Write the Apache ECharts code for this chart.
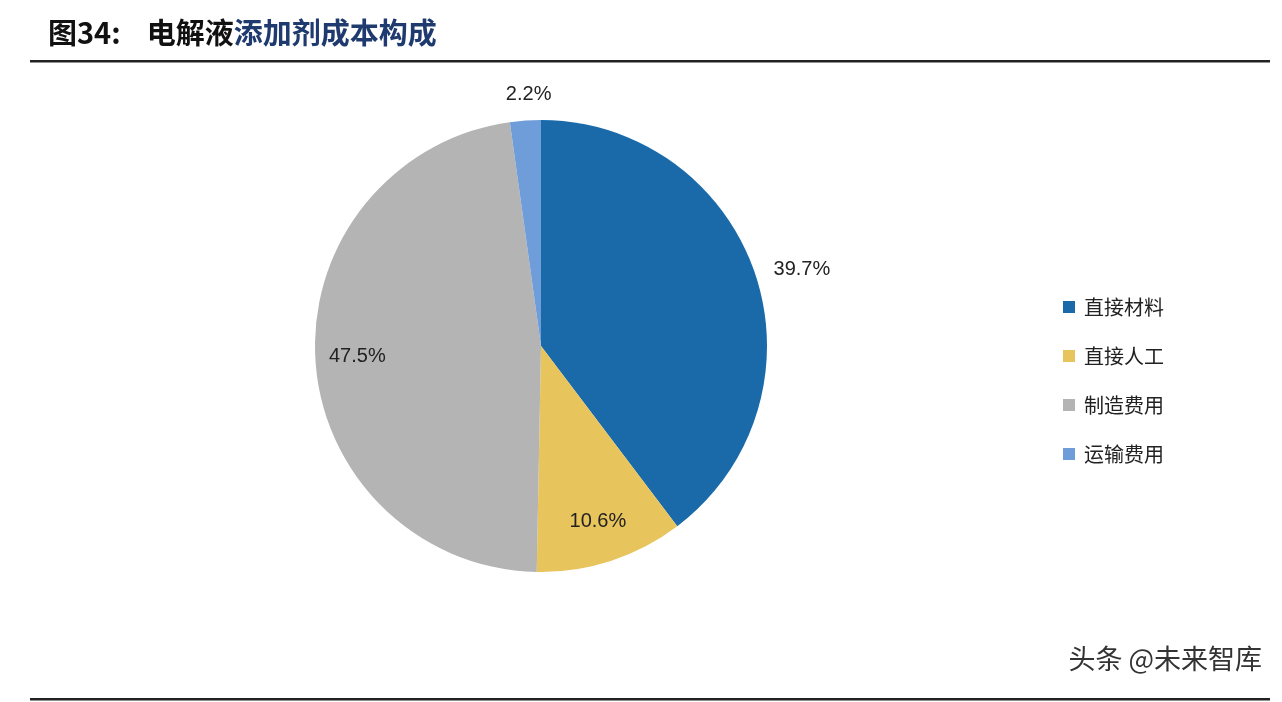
<!DOCTYPE html><html><head><meta charset="utf-8"><script src="https://cdn.jsdelivr.net/npm/echarts@6/dist/echarts.min.js"></script>
<style>body{margin:0;background:#fff}#c{width:1282px;height:702px}</style></head><body><div id="c"></div><script>
const categories=['直接材料','直接人工','制造费用','运输费用'];
const values=[39.7,10.6,47.5,2.2];
const colors=['#1A6AAA','#E8C45C','#B4B4B4','#6E9DD9'];
const outsideSet=[true,false,false,true];
const chart=echarts.init(document.getElementById('c'));
const font='"Noto Sans CJK SC",sans-serif';
chart.setOption({
 animation:false,
 graphic:[
  {type:'text',left:48,top:18,style:{text:'{a|图34:}{s| }{a|电解液}{b|添加剂成本构成}',
   rich:{a:{font:'bold 29px '+font,fill:'#111'},s:{width:26,font:'bold 29px '+font},b:{font:'bold 29px '+font,fill:'#1F3A6E'}}}},
  {type:'rect',shape:{x:30,y:60,width:1240,height:2.5},style:{fill:'#222'}},
  {type:'rect',shape:{x:30,y:698,width:1240,height:2.5},style:{fill:'#222'}},
  {type:'text',right:20,top:645,style:{text:'头条 @未来智库',font:'27px '+font,fill:'#333'}}
 ],
 legend:{orient:'vertical',left:1058,top:292,itemWidth:12,itemHeight:12,itemGap:29,icon:'rect',
  textStyle:{fontSize:20,fontFamily:font,color:'#222',padding:[0,0,0,4]},data:categories},
 series:[
  {type:'pie',center:[541,346],radius:[0,226],startAngle:90,clockwise:true,
   label:{show:true,position:'outside',formatter:'{c}%',fontSize:20,fontFamily:'Arial,"Liberation Sans"',color:'#222'},
   labelLine:{show:false,length:14,length2:0},
   data:categories.map((n,i)=>({name:n,value:values[i],itemStyle:{color:colors[i]},
     label:i===3?{show:true,offset:[32,-12]}:{show:outsideSet[i]}}))},
  {type:'pie',center:[541,346],radius:[0,362],startAngle:90,clockwise:true,silent:true,
   label:{show:true,position:'inner',formatter:'{c}%',fontSize:20,fontFamily:'Arial,"Liberation Sans"',color:'#222'},
   labelLine:{show:false},
   data:categories.map((n,i)=>({name:n,value:values[i],itemStyle:{color:'rgba(0,0,0,0)'},label:{show:!outsideSet[i]}}))}
 ]
});
</script></body></html>
